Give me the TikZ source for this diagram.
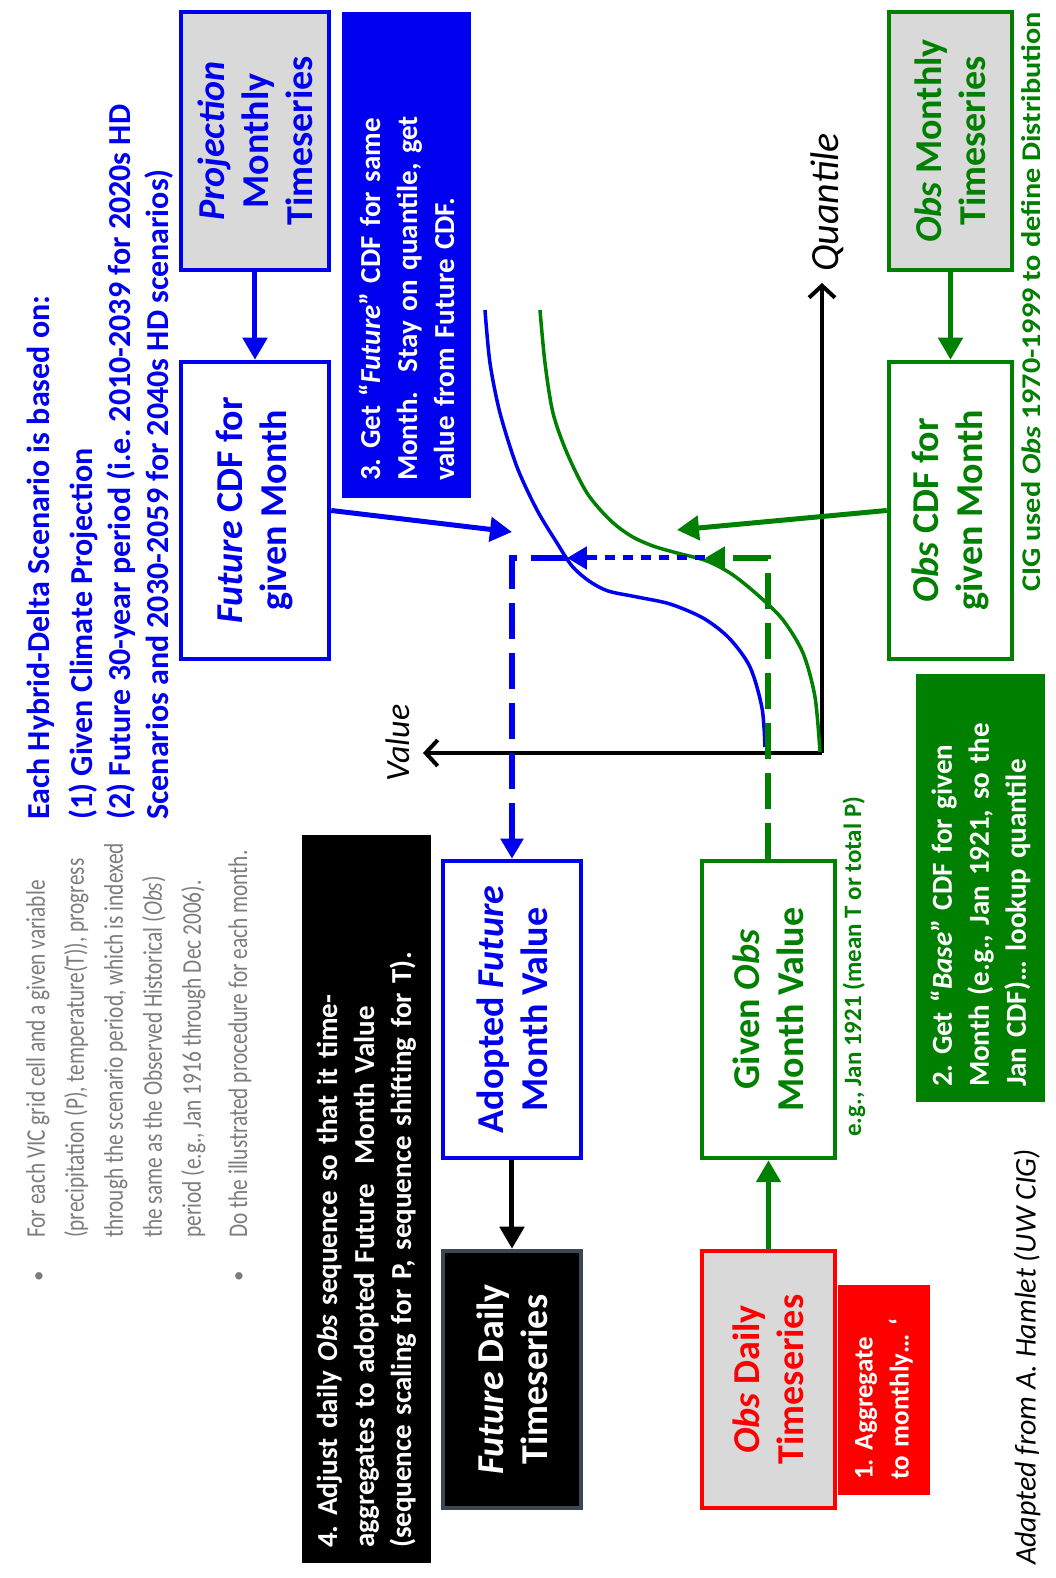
\documentclass[tikz,border=0pt]{standalone}
\usepackage{fontspec}
\setmainfont{Carlito}
\newfontfamily\notefont{Carlito}[FakeStretch=0.79]
\newfontfamily\widefont{Carlito}[FakeStretch=1.12]
\usetikzlibrary{arrows.meta,positioning}

\definecolor{hdblue}{RGB}{0,0,240}
\definecolor{hdgreen}{RGB}{0,128,0}
\definecolor{hdred}{RGB}{255,0,0}
\definecolor{hdgray}{RGB}{217,217,217}
\definecolor{notegray}{RGB}{125,125,125}
\definecolor{slate}{RGB}{60,70,85}

\begin{document}
\frenchspacing
\begin{tikzpicture}
[x=1pt, y=1pt, rotate=90, transform shape,
% STYLES
% The series style is used for the gray timeseries boxes
series/.style={rectangle, draw, line width=4.5pt, fill=hdgray, inner sep=0pt, align=center, font=\fontsize{38}{44}\selectfont\bfseries},
% The cdfbox style is used for the white boxes
cdfbox/.style={series, fill=white},
% The task style is used to describe each numbered step
task/.style={rectangle, inner sep=0pt, align=left, text=white, font=\fontsize{29}{37}\selectfont\bfseries},
% The note style is used for the free text
note/.style={inner sep=0pt, align=left},
link/.style={line width=5pt, -{Triangle[length=22pt,width=24pt]}},
axis/.style={line width=4pt, -{Straight Barb[length=12pt,width=26pt]}},
curve/.style={line width=3.5pt},
guide/.style={line width=6pt, dash pattern=on 36pt off 14pt, -{Triangle[length=20pt,width=22pt]}}]

\fill[white] (0,0) rectangle (1578,1055);
\useasboundingbox (0,0) rectangle (1578,1055);

% Free text
\node [note, anchor=north west, text=notegray, font=\notefont\fontsize{27}{39}\selectfont] (intro) at (340,1029) {For each VIC grid cell and a given variable\\
(precipitation (P), temperature(T)), progress\\
through the scenario period, which is indexed\\
the same as the Observed Historical (\textit{Obs})\\
period (e.g., Jan 1916 through Dec 2006).};
\node [note, anchor=west, text=notegray, font=\notefont\fontsize{27}{39}\selectfont] (proc) at (340,815) {Do the illustrated procedure for each month.};
\node [note, text=notegray, font=\fontsize{21}{39}\selectfont] (dotone) at (302,1015) {\textbullet};
\node [note, text=notegray, font=\fontsize{21}{39}\selectfont] (dottwo) at (302,815) {\textbullet};

\node [note, anchor=north west, text=hdblue, font=\fontsize{32}{38}\selectfont\bfseries] (basis) at (758,1028) {Each Hybrid-Delta Scenario is based on:\\[5pt]
(1) Given Climate Projection\\
(2) Future 30-year period (i.e. 2010-2039 for 2020s HD\\
Scenarios and 2030-2059 for 2040s HD scenarios)};

% Draw boxes
\node [series, draw=hdblue, text=hdblue, minimum width=258pt, minimum height=148pt] (proj) at (1437,800) {\textit{Projection}\\Monthly\\Timeseries};
\node [cdfbox, draw=hdblue, text=hdblue, minimum width=297pt, minimum height=148pt] (futcdf) at (1067.5,800) {\textit{Future} CDF for\\given Month};
\node [series, draw=hdgreen, text=hdgreen, minimum width=258pt, minimum height=123pt] (obsmon) at (1437,104.5) {\textit{Obs} Monthly\\Timeseries};
\node [cdfbox, draw=hdgreen, text=hdgreen, minimum width=297pt, minimum height=123pt] (obscdf) at (1067.5,104.5) {\textit{Obs} CDF for\\given Month};
\node [cdfbox, draw=hdgreen, text=hdgreen, minimum width=297pt, minimum height=133pt] (givobs) at (568.5,286.5) {Given \textit{Obs}\\Month Value};
\node [cdfbox, draw=hdblue, text=hdblue, minimum width=297pt, minimum height=138pt] (adopt) at (568.5,543) {Adopted \textit{Future}\\Month Value};
\node [series, fill=black, draw=slate, text=white, minimum width=257pt, minimum height=138pt] (futdaily) at (198.5,543) {\textit{Future} Daily\\Timeseries};
\node [series, draw=hdred, text=hdred, minimum width=257pt, minimum height=133pt] (obsdaily) at (198.5,286.5) {\textit{Obs} Daily\\Timeseries};

% Numbered steps
\node [task, fill=hdred, minimum width=210pt, minimum height=92pt, text width=180pt, font=\fontsize{27}{36}\selectfont\bfseries] (stepone) at (188,171) {1. Aggregate\\to monthly… `};
\node [task, fill=hdgreen, minimum width=428pt, minimum height=129pt, text width=398pt] (steptwo) at (690,74.5) {2. Get “\textit{Base}” CDF for given\\Month (e.g., Jan 1921, so the\\Jan CDF)… lookup quantile};
\node [task, fill=hdblue, minimum width=486pt, minimum height=129pt, text width=452pt] (stepthree) at (1323,648.5) {3. Get “\textit{Future}” CDF for same\\Month.\ \ Stay on quantile, get\\value from Future CDF.};
\node [task, fill=black, minimum width=728pt, minimum height=129pt, text width=698pt] (stepfour) at (379,688.5) {4. Adjust daily \textit{Obs} sequence so that it time-\\aggregates to adopted Future\ \ Month Value\\(sequence scaling for P, sequence shifting for T).};

% Comments
\node [note, anchor=east, text=hdgreen, font=\widefont\fontsize{27}{30}\selectfont\bfseries] (cig) at (1566,24) {CIG used \textit{Obs} 1970-1999 to define Distribution};
\node [note, anchor=west, text=hdgreen, font=\fontsize{25}{28}\selectfont\bfseries] (janex) at (441,201) {e.g., Jan 1921 (mean T or total P)};
\node [note, anchor=west, font=\fontsize{30}{34}\selectfont\itshape] (source) at (13,28) {Adapted from A. Hamlet (UW CIG)};

% Quantile plot
\coordinate (origin) at (825,233);
\coordinate (qtip) at (1295,233);
\coordinate (vtip) at (825,632);
\draw[axis] (origin) -- (qtip);
\draw[axis] (origin) -- (vtip);
\node [note, anchor=west, font=\fontsize{40}{44}\selectfont\itshape] (quantile) at (1306,228) {Quantile};
\node [note, font=\fontsize{34}{40}\selectfont\itshape] (value) at (835,657) {Value};

\draw[curve, hdblue] plot[smooth] coordinates {(831,290) (870,293) (911,305) (940,326) (960,352) (974,385) (981,418) (987,447) (997,466) (1012,483) (1035,498) (1068,518) (1111,538) (1165,555) (1215,565) (1268,570)};
\draw[curve, hdgreen] plot[smooth] coordinates {(826,235) (881,240) (925,252) (958,272) (981,295) (1003,322) (1017,348) (1025,378) (1032,402) (1042,424) (1058,445) (1085,468) (1125,488) (1165,502) (1215,510) (1268,515)};

\coordinate (qobs) at (1020,350);
\coordinate (qfut) at (1020,488);
\coordinate (futtip) at (1046,543);
\coordinate (obstip) at (1048,378);

% Draw the links
\path[link]
(proj) edge[hdblue] (futcdf)
(obsmon) edge[hdgreen] (obscdf)
(obsdaily) edge[hdgreen] (givobs)
(adopt) edge[black] (futdaily)
(futcdf.south) edge[hdblue] (futtip)
(obscdf.north) edge[hdgreen] (obstip);

\draw[guide, hdgreen] (givobs.east) -| (qobs);
\draw[guide, hdblue, line width=5pt, dash pattern=on 10pt off 8pt] (qobs) -- (qfut);
\draw[guide, hdblue] (qfut) |- (adopt.east);

\end{tikzpicture}
\end{document}
